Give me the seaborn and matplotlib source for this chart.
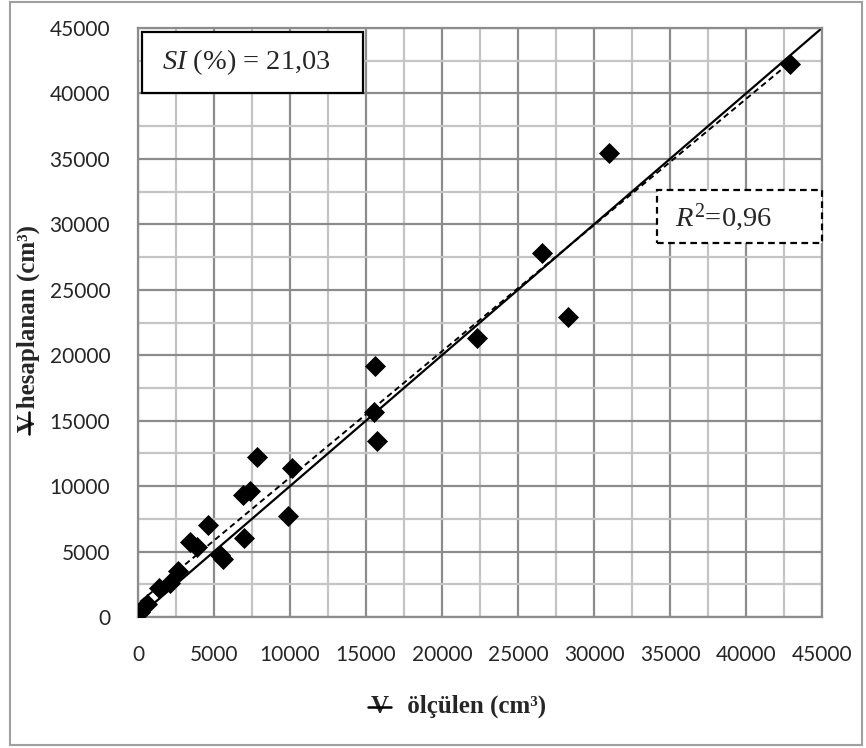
import numpy as np
import pandas as pd
import matplotlib
matplotlib.use("Agg")
import matplotlib.pyplot as plt
import seaborn as sns
from matplotlib.patches import Rectangle
from matplotlib.lines import Line2D

# Measured vs. computed volumes (cm³)
olculen = [150, 600, 1350, 2100, 2600, 3400, 3900, 4600, 5400, 5600,
           7000, 6900, 7400, 7800, 9900, 10100, 15500, 15600, 15700,
           22300, 26600, 28300, 31000, 42900]
hesaplanan = [350, 1000, 2200, 2600, 3550, 5700, 5350, 7050, 4700, 4450,
              6000, 9300, 9600, 12250, 7700, 11400, 15700, 19150, 13450,
              21350, 27800, 22950, 35450, 42250]

major_ticks = [0, 5000, 10000, 15000, 20000, 25000, 30000, 35000, 40000, 45000]
si_text = r"$\mathit{SI}$ (%) = 21,03"
r2_text = r"$\mathit{R}^{2}$=0,96"
xlabel = "V   ölçülen (cm³)"
ylabel = "V hesaplanan (cm³)"

df = pd.DataFrame({"olculen": olculen, "hesaplanan": hesaplanan})

sns.set_theme(style="white")
plt.rcParams["font.family"] = ["Liberation Serif", "DejaVu Serif"]
plt.rcParams["mathtext.fontset"] = "custom"
plt.rcParams["mathtext.it"] = "Liberation Serif:italic"
plt.rcParams["mathtext.rm"] = "Liberation Serif"

W, H = 866, 748
fig = plt.figure(figsize=(W / 100, H / 100), dpi=100)
ax = fig.add_axes([138 / W, 1 - 617 / H, 684 / W, 589 / H])

lo, hi = 0, 45000
ax.set_xlim(lo, hi)
ax.set_ylim(lo, hi)

# grid: major every 5000, minor every 2500
ax.set_xticks(major_ticks)
ax.set_yticks(major_ticks)
minor = [t + 2500 for t in major_ticks[:-1]]
ax.set_xticks(minor, minor=True)
ax.set_yticks(minor, minor=True)
ax.grid(which="major", color="#8c8c8c", lw=1.6, zorder=0)
ax.grid(which="minor", color="#c4c4c4", lw=1.6, zorder=0)
ax.set_axisbelow(True)

for side in ax.spines.values():
    side.set_color("#8c8c8c")
    side.set_linewidth(1.6)

ax.tick_params(which="major", direction="out", length=6, width=1.4,
               color="#8c8c8c", pad=14)
ax.tick_params(which="minor", length=0)
ax.set_xticklabels([str(t) for t in major_ticks], fontfamily="Lato", fontsize=15)
ax.set_yticklabels([str(t) for t in major_ticks], fontfamily="Lato", fontsize=15)

# 1:1 line
ax.plot([lo, hi], [lo, hi], color="black", lw=1.6, zorder=2)

# linear trend of the data (dashed)
sns.regplot(data=df, x="olculen", y="hesaplanan", ax=ax, scatter=False,
            ci=None, truncate=True,
            line_kws=dict(color="black", lw=1.4, ls=(0, (3, 2)), zorder=3))

sns.scatterplot(data=df, x="olculen", y="hesaplanan", ax=ax, marker="D",
                s=115, color="black", edgecolor="black", linewidth=0, zorder=4)

ax.set_xlim(lo, hi)
ax.set_ylim(lo, hi)

lab_kw = dict(fontsize=18, fontweight="bold")
ax.set_xlabel(xlabel, **lab_kw)
ax.set_ylabel(ylabel, **lab_kw)
ax.xaxis.label.set_va("center")
ax.yaxis.label.set_va("center")
ax.xaxis.set_label_coords(0.468, -0.1511)
ax.yaxis.set_label_coords(-0.1608, 0.49)

# SI box
ax.add_patch(Rectangle((0.0058, 0.8897), 0.3232, 0.1035, transform=ax.transAxes,
                       fc="white", ec="black", lw=1.6, zorder=6, clip_on=False))
ax.text(0.0351, 0.9423, si_text, transform=ax.transAxes, fontsize=20.5,
        ha="left", va="center", zorder=7)

# R² box
ax.add_patch(Rectangle((0.7588, 0.635), 0.2412, 0.090, transform=ax.transAxes,
                       fc="white", ec="black", lw=1.6, ls=(0, (3, 2)),
                       zorder=6, clip_on=False))
ax.text(0.785, 0.679, r2_text, transform=ax.transAxes, fontsize=20.5,
        ha="left", va="center", zorder=7)

# outer chart border
fig.patches.append(Rectangle((10 / W, 3 / H), 852 / W, 743 / H,
                             transform=fig.transFigure, fill=False,
                             ec="#a0a0a0", lw=1.5))

# horizontal bar through the volume symbol "V" of both axis titles
fig.canvas.draw()
rend = fig.canvas.get_renderer()
tmp = fig.text(0, 0, "V", **lab_kw)
vw = tmp.get_window_extent(rend).width
tmp.remove()
inv = fig.transFigure.inverted()

xb = ax.xaxis.label.get_window_extent(rend)
yb_bar = xb.y0 + 0.47 * xb.height
p0 = inv.transform((xb.x0 - 0.12 * vw, yb_bar))
p1 = inv.transform((xb.x0 + 1.12 * vw, yb_bar))
fig.add_artist(Line2D([p0[0], p1[0]], [p0[1], p1[1]], transform=fig.transFigure,
                      color="black", lw=1.8))

yb = ax.yaxis.label.get_window_extent(rend)
xb_bar = yb.x1 - 0.47 * yb.width
q0 = inv.transform((xb_bar, yb.y0 - 0.12 * vw))
q1 = inv.transform((xb_bar, yb.y0 + 1.12 * vw))
fig.add_artist(Line2D([q0[0], q1[0]], [q0[1], q1[1]], transform=fig.transFigure,
                      color="black", lw=1.8))

fig.savefig("out.png", dpi=100)
